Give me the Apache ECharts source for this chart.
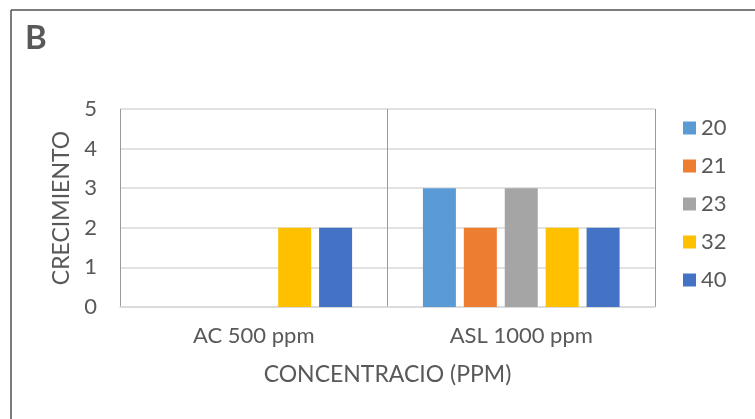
<!DOCTYPE html>
<html>
<head>
<meta charset="utf-8">
<script src="https://cdn.jsdelivr.net/npm/echarts@6/dist/echarts.min.js"></script>
<style>
  html, body { margin: 0; padding: 0; background: #fff; }
  #chart { width: 755px; height: 419px; }
</style>
</head>
<body>
<div id="chart"></div>
<script>
// Concentrations on the category axis
const categories = ['AC 500 ppm', 'ASL 1000 ppm'];
// One series per strain
const seriesNames = ['20', '21', '23', '32', '40'];
const values20 = [0, 3];
const values21 = [0, 2];
const values23 = [0, 3];
const values32 = [2, 2];
const values40 = [2, 2];
const yTicks = [0, 1, 2, 3, 4, 5];
const yTitle = 'CRECIMIENTO';
const xTitle = 'CONCENTRACIO (PPM)';

const seriesValues = [values20, values21, values23, values32, values40];
const colors = ['#5B9BD5', '#ED7D31', '#A5A5A5', '#FFC000', '#4472C4'];
const FONT = 'Lato, "Liberation Sans", sans-serif';
const TXT = '#595959';

const chart = echarts.init(document.getElementById('chart'));
chart.setOption({
  animation: false,
  backgroundColor: '#ffffff',
  color: colors,
  textStyle: { fontFamily: FONT, color: TXT },
  grid: { left: 120, right: 100, top: 109, bottom: 112 },
  legend: {
    orient: 'vertical',
    left: 678,
    top: 112,
    icon: 'rect',
    itemWidth: 13,
    itemHeight: 13,
    itemGap: 16,
    data: seriesNames,
    textStyle: { fontSize: 22, color: TXT, fontFamily: FONT }
  },
  xAxis: {
    type: 'category',
    data: categories,
    name: xTitle,
    nameLocation: 'middle',
    nameGap: 56,
    nameTextStyle: { fontSize: 23, color: TXT, fontFamily: FONT },
    axisLine: { show: true, lineStyle: { color: '#D9D9D9', width: 1.5 } },
    axisTick: { show: false },
    axisLabel: { margin: 18, fontSize: 22, color: TXT, fontFamily: FONT },
    splitLine: { show: true, lineStyle: { color: '#9A9A9A', width: 1 } }
  },
  yAxis: {
    type: 'value',
    min: yTicks[0],
    max: yTicks[yTicks.length - 1],
    interval: 1,
    axisLine: { show: false },
    axisTick: { show: false },
    axisLabel: { margin: 23, fontSize: 22, color: TXT, fontFamily: FONT },
    splitLine: { show: true, lineStyle: { color: '#D9D9D9', width: 1.5 } }
  },
  series: seriesNames.map((name, i) => ({
    name: name,
    type: 'bar',
    data: seriesValues[i],
    barWidth: 33,
    barGap: '24%'
  })),
  graphic: [
    {
      // vertical axis title, read bottom to top
      type: 'text',
      x: 62,
      y: 208,
      rotation: Math.PI / 2,
      style: {
        text: yTitle, fontSize: 23, fill: TXT, fontFamily: FONT,
        align: 'center', verticalAlign: 'middle'
      }
    },
    {
      type: 'text',
      left: 25,
      top: 22,
      style: { text: 'B', fontSize: 33, fontWeight: 'bold', fill: TXT, fontFamily: FONT }
    },
    {
      type: 'line',
      shape: { x1: 11, y1: 10, x2: 755, y2: 10 },
      style: { stroke: '#505050', lineWidth: 1.5 }
    },
    {
      type: 'line',
      shape: { x1: 11, y1: 10, x2: 11, y2: 419 },
      style: { stroke: '#505050', lineWidth: 1.5 }
    }
  ]
});
</script>
</body>
</html>
